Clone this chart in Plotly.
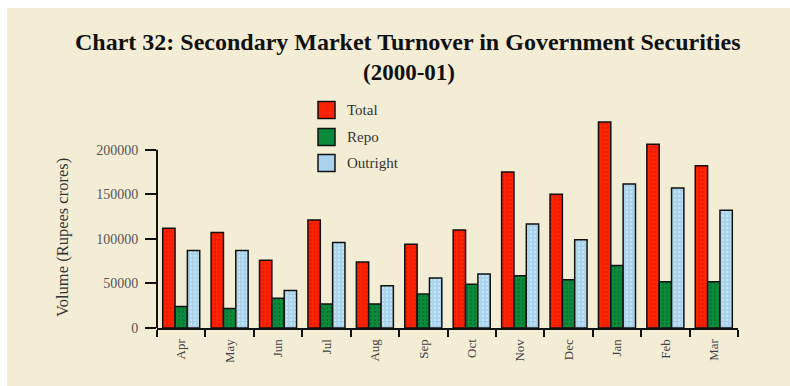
import plotly.graph_objects as go

months = ["Apr", "May", "Jun", "Jul", "Aug", "Sep", "Oct", "Nov", "Dec", "Jan", "Feb", "Mar"]
total = [112000, 107000, 76000, 121000, 74000, 94000, 110000, 175000, 150000, 231000, 206000, 182000]
repo = [24000, 22000, 33500, 27000, 27000, 38000, 49000, 58500, 54000, 70000, 52000, 52000]
outright = [87000, 87000, 42000, 96000, 47500, 56000, 60500, 116500, 99000, 161500, 157000, 132000]
y_ticks = [0, 50000, 100000, 150000, 200000]

series = [
    ("Total", total, "#ff2200", "#c81400"),
    ("Repo", repo, "#0b8a3b", "#05602a"),
    ("Outright", outright, "#a9d3ec", "#e8f4fb"),
]

W, H = 790, 386
L, R, T, B = 157, 52, 114, 58
pw, ph = W - L - R, H - T - B

def px(x):
    return (x - L) / pw

def py(y):
    return (H - B - y) / ph

fig = go.Figure()
for name, vals, col, dot in series:
    fig.add_trace(go.Bar(
        x=months, y=vals, name=name, showlegend=False,
        marker=dict(color=col, line=dict(color="#111111", width=1.5),
                    pattern=dict(shape=".", size=4, solidity=0.25, fgcolor=dot, fillmode="overlay")),
        cliponaxis=False,
    ))

serif = "Liberation Serif, Times New Roman, serif"

shapes = [
    dict(type="line", xref="x domain", yref="y", x0=0, x1=0, y0=0, y1=200000,
         line=dict(color="#111111", width=2)),
    dict(type="rect", xref="paper", yref="paper", x0=px(0), x1=px(W), y0=py(0), y1=py(8),
         line=dict(width=0), fillcolor="white", layer="below"),
    dict(type="rect", xref="paper", yref="paper", x0=px(0), x1=px(7), y0=py(0), y1=py(H),
         line=dict(width=0), fillcolor="white", layer="below"),
]
annotations = [
    dict(text="<b>Chart 32: Secondary Market Turnover in Government Securities</b>",
         xref="paper", yref="paper", x=px(408), y=py(42), showarrow=False,
         font=dict(family=serif, size=24, color="#111111"), xanchor="center", yanchor="middle"),
    dict(text="<b>(2000-01)</b>",
         xref="paper", yref="paper", x=px(409), y=py(72), showarrow=False,
         font=dict(family=serif, size=23, color="#111111"), xanchor="center", yanchor="middle"),
    dict(text="Volume (Rupees crores)", textangle=-90,
         xref="paper", yref="paper", x=px(62), y=py(238), showarrow=False,
         font=dict(family=serif, size=16.5, color="#333333"), xanchor="center", yanchor="middle"),
]
legend_y = [110, 137, 163]
for (name, vals, col, dot), ly in zip(series, legend_y):
    shapes.append(dict(type="rect", xref="paper", yref="paper",
                       x0=px(318), x1=px(335), y0=py(ly - 8.5), y1=py(ly + 8.5),
                       fillcolor=col, line=dict(color="#111111", width=1.5)))
    annotations.append(dict(text=name, xref="paper", yref="paper", x=px(345), y=py(ly),
                            showarrow=False, xanchor="left", yanchor="middle",
                            font=dict(family=serif, size=15, color="#333333")))

fig.update_layout(
    width=W, height=H,
    margin=dict(l=L, r=R, t=T, b=B),
    paper_bgcolor="#f4edd5", plot_bgcolor="rgba(0,0,0,0)",
    barmode="group", bargap=0.235, bargroupgap=0,
    shapes=shapes, annotations=annotations,
    showlegend=False,
)
fig.update_xaxes(
    type="category", range=[-0.5, 11.5], showline=True, linecolor="#111111", linewidth=2,
    ticks="outside", tickson="boundaries", ticklen=7, tickwidth=2, tickcolor="#111111",
    tickangle=-90, tickfont=dict(family=serif, size=13, color="#444444"),
    ticklabelstandoff=4,
    showgrid=False, zeroline=False,
)
fig.update_yaxes(
    range=[0, 240000], tickvals=y_ticks, tickformat="d", showline=False,
    ticks="outside", ticklen=11, tickwidth=1.5, tickcolor="#111111",
    tickfont=dict(family=serif, size=14, color="#555555"),
    ticklabelstandoff=4,
    showgrid=False, zeroline=False,
)

fig.write_html("out.html")
